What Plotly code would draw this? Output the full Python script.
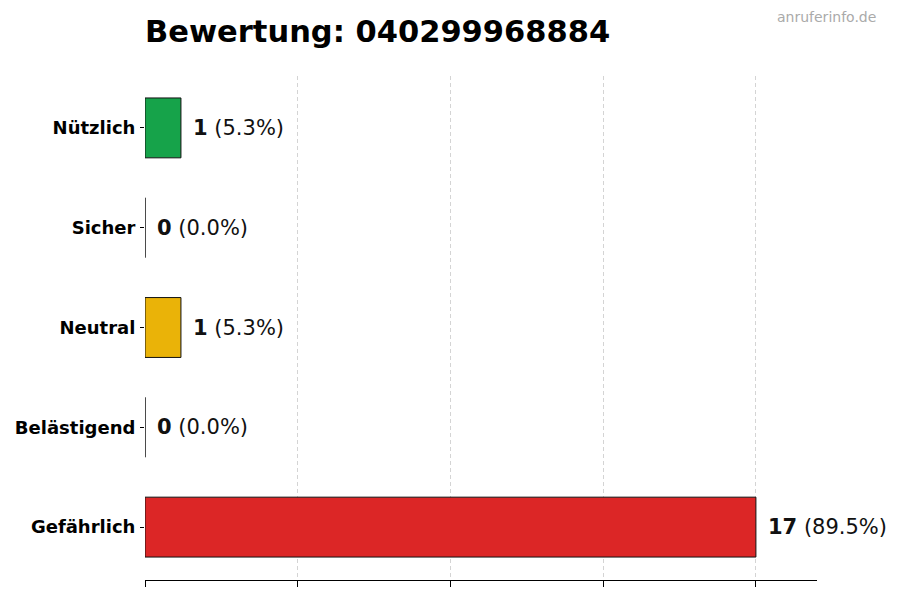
import plotly.graph_objects as go

categories = ["Gefährlich", "Belästigend", "Neutral", "Sicher", "Nützlich"]
counts = [17, 0, 1, 0, 1]
colors = ["#dc2626", "#f97316", "#eab308", "#3b82f6", "#16a34a"]
title_text = "Bewertung: 040299968884"
watermark = "anruferinfo.de"

total = sum(counts)
vmax = max(counts)
tickvals = [vmax * i / 4 for i in range(5)]

# page offset (body margin) is 8px; plot area in page px: x 145..817, y 76..580
OFF = 8
L, R, T, B = 145 - OFF, 900 - (817 - OFF), 76 - OFF, 600 - (580 - OFF)
PW, PH = 817 - 145, 580 - 76

fig = go.Figure()
fig.add_trace(go.Bar(
    y=categories, x=counts, orientation="h", width=0.6,
    marker=dict(color=colors, line=dict(color="#111111", width=1)),
    hoverinfo="skip",
))

for cat, v in zip(categories, counts):
    pct = 100 * v / total
    fig.add_annotation(
        x=v, y=cat, xref="x", yref="y", xanchor="left", yanchor="middle",
        xshift=10, showarrow=False,
        text=f"<b>{v}</b> ({pct:.1f}%)",
        font=dict(family="DejaVu Sans", size=21, color="#111111"),
    )

fig.add_annotation(
    x=1.0 + (878 - 817) / PW, y=1.0 + (76 - 17) / PH,
    xref="paper", yref="paper", showarrow=False, text=watermark,
    font=dict(family="DejaVu Sans", size=14, color="#aaaaaa"),
    xanchor="right", yanchor="middle",
)

fig.update_layout(
    width=900, height=600,
    margin=dict(l=L, r=R, t=T, b=B, autoexpand=False),
    paper_bgcolor="white", plot_bgcolor="white",
    showlegend=False,
    title=dict(text=f"<b>{title_text}</b>", x=L / 900, xanchor="left",
               y=1 - (31 - OFF) / 600, yanchor="middle",
               font=dict(family="DejaVu Sans", size=30.5, color="#000000")),
    xaxis=dict(range=[0, vmax * 1.1], tickvals=tickvals, showticklabels=False,
               ticks="outside", ticklen=6, tickcolor="#000", tickwidth=1,
               showgrid=True, gridcolor="#d4d4d4", griddash="4px,3px", gridwidth=1,
               showline=True, linecolor="#000", linewidth=1, zeroline=False,
               automargin=False),
    yaxis=dict(range=[-0.53, 4.52], ticks="outside", ticklen=4, tickcolor="#000",
               showline=False, showgrid=False, zeroline=False, automargin=False,
               ticklabelstandoff=1,
               tickfont=dict(family="DejaVu Sans", size=18, color="#000"),
               tickprefix="<b>", ticksuffix="</b>",
               categoryorder="array", categoryarray=categories),
)

fig.write_html("out.html")
